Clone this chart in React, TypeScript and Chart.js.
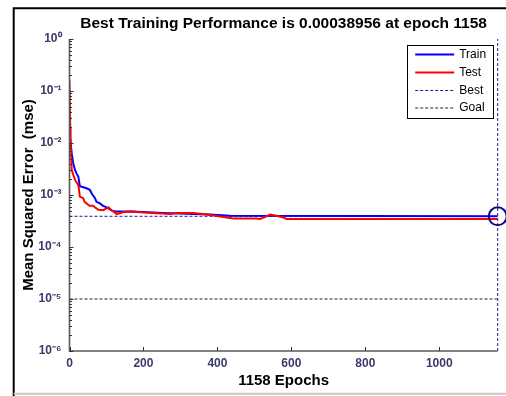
import React, { useEffect, useRef } from 'react';
import { Chart, registerables } from 'chart.js';

Chart.register(...registerables);

const TITLE = 'Best Training Performance is 0.00038956 at epoch 1158';
const X_LABEL = '1158 Epochs';
const Y_LABEL = 'Mean Squared Error  (mse)';
const MAX_EPOCH = 1158;
const BEST_PERF = 0.00038956;
const GOAL = 1e-5;

const X_TICKS = [0, 200, 400, 600, 800, 1000];
const Y_TICKS = [1e-6, 1e-5, 1e-4, 1e-3, 1e-2, 1e-1, 1];
const Y_TICK_LABELS = ['10⁻⁶', '10⁻⁵', '10⁻⁴', '10⁻³', '10⁻²', '10⁻¹', '10⁰'];

const trainEpochs = [0, 1, 6, 10, 15, 19, 24, 28, 46, 55, 60, 69, 73, 82, 91, 100, 105, 115, 123, 168, 254, 380, 434, 1158];
const trainMse = [0.0158, 0.0141, 0.0063, 0.0041, 0.003, 0.0026, 0.00224, 0.00148, 0.00135, 0.00126, 0.00107, 0.00087, 0.00074, 0.00069, 0.00062, 0.00058, 0.00055, 0.0005, 0.00048, 0.00048, 0.00045, 0.00042, 0.000398, 0.00038956];

const testEpochs = [0, 2, 3, 6, 15, 24, 28, 37, 41, 54, 63, 78, 91, 100, 105, 114, 128, 146, 168, 200, 272, 290, 335, 371, 443, 506, 515, 530, 542, 560, 578, 587, 1158];
const testMse = [0.16, 0.02, 0.0115, 0.003, 0.00195, 0.00155, 0.00093, 0.00087, 0.00074, 0.00062, 0.00062, 0.00052, 0.00051, 0.00055, 0.00058, 0.00051, 0.00043, 0.00047, 0.00048, 0.00046, 0.00043, 0.00045, 0.00045, 0.00042, 0.000355, 0.000355, 0.000347, 0.00038, 0.00042, 0.0004, 0.00037, 0.000347, 0.000347];

const LEGEND_LABELS = ['Train', 'Test', 'Best', 'Goal'];

const FONT = "'Liberation Sans', Arial, sans-serif";
const TICK_COLOR = '#3a3a6a';
const AXIS_COLOR = '#5a5a5a';

const decorPlugin = {
  id: 'decor',
  beforeDraw(chart: any) {
    const { ctx, width, height } = chart;
    ctx.save();
    ctx.fillStyle = '#ffffff';
    ctx.fillRect(0, 0, width, height);
    ctx.strokeStyle = '#000000';
    ctx.lineWidth = 2;
    ctx.beginPath();
    ctx.moveTo(13.7, height);
    ctx.lineTo(13.7, 8.3);
    ctx.lineTo(width, 8.3);
    ctx.stroke();
    ctx.strokeStyle = '#c8c8c8';
    ctx.beginPath();
    ctx.moveTo(13.7, 393.7);
    ctx.lineTo(width, 393.7);
    ctx.stroke();
    ctx.restore();
  },
  afterDraw(chart: any) {
    const { ctx, chartArea: ca } = chart;
    const xs = chart.scales.x;
    const ys = chart.scales.y;
    ctx.save();
    ctx.strokeStyle = AXIS_COLOR;
    ctx.lineWidth = 1.6;
    ctx.beginPath();
    ctx.moveTo(ca.left, ca.top);
    ctx.lineTo(ca.left, ca.bottom);
    ctx.lineTo(ca.right, ca.bottom);
    ctx.stroke();
    ctx.lineWidth = 1;
    ctx.strokeStyle = '#333333';
    ctx.beginPath();
    X_TICKS.forEach((v) => {
      const px = Math.round(xs.getPixelForValue(v)) + 0.5;
      ctx.moveTo(px, ca.bottom);
      ctx.lineTo(px, ca.bottom - 4);
    });
    for (let i = 0; i < Y_TICKS.length; i++) {
      const v = Y_TICKS[i];
      const py = Math.round(ys.getPixelForValue(v)) + 0.5;
      ctx.moveTo(ca.left, py);
      ctx.lineTo(ca.left + 4, py);
      if (i < Y_TICKS.length - 1) {
        for (let m = 2; m <= 9; m++) {
          const pm = Math.round(ys.getPixelForValue(v * m)) + 0.5;
          ctx.moveTo(ca.left, pm);
          ctx.lineTo(ca.left + 2.5, pm);
        }
      }
    }
    ctx.stroke();

    const bx = ca.right - 90.5;
    const by = ca.top + 6;
    const bw = 86;
    const bh = 73;
    ctx.fillStyle = '#ffffff';
    ctx.fillRect(bx, by, bw, bh);
    ctx.strokeStyle = '#000000';
    ctx.lineWidth = 1;
    ctx.strokeRect(Math.round(bx) + 0.5, Math.round(by) + 0.5, bw, bh);
    const rows = [9.5, 27.5, 45.5, 63];
    ctx.font = `12px ${FONT}`;
    ctx.textBaseline = 'middle';
    ctx.textAlign = 'left';
    LEGEND_LABELS.forEach((lab, i) => {
      const ds = chart.data.datasets[i];
      const y = by + rows[i];
      ctx.save();
      ctx.strokeStyle = ds.borderColor;
      ctx.lineWidth = ds.borderWidth;
      ctx.setLineDash(ds.borderDash || []);
      ctx.beginPath();
      ctx.moveTo(bx + 8, y);
      ctx.lineTo(bx + 47, y);
      ctx.stroke();
      ctx.restore();
      ctx.fillStyle = '#000000';
      ctx.fillText(lab, bx + 52, y);
    });
    ctx.restore();
  },
};

export default function App() {
  const ref = useRef<HTMLCanvasElement | null>(null);

  useEffect(() => {
    document.body.style.margin = '0';
    const canvas = ref.current;
    if (!canvas) return;
    const chart = new Chart(canvas, {
      type: 'line',
      data: {
        datasets: [
          {
            label: 'Train',
            data: trainEpochs.map((e, i) => ({ x: e, y: trainMse[i] })),
            borderColor: '#0000ff',
            borderWidth: 2,
            pointRadius: 0,
            order: 3,
          },
          {
            label: 'Test',
            data: testEpochs.map((e, i) => ({ x: e, y: testMse[i] })),
            borderColor: '#ff0000',
            borderWidth: 2,
            pointRadius: 0,
            order: 2,
          },
          {
            label: 'Best',
            data: [
              { x: 0, y: BEST_PERF },
              { x: MAX_EPOCH, y: BEST_PERF },
            ],
            borderColor: '#1a1a9a',
            borderWidth: 1,
            borderDash: [3, 2],
            pointRadius: 0,
            order: 4,
          },
          {
            label: 'Goal',
            data: [
              { x: 0, y: GOAL },
              { x: MAX_EPOCH, y: GOAL },
            ],
            borderColor: '#222222',
            borderWidth: 1,
            borderDash: [3, 2],
            pointRadius: 0,
            order: 5,
          },
          {
            label: 'BestEpoch',
            data: [
              { x: MAX_EPOCH, y: Y_TICKS[0] },
              { x: MAX_EPOCH, y: Y_TICKS[Y_TICKS.length - 1] },
            ],
            borderColor: '#1a1a9a',
            borderWidth: 1,
            borderDash: [3, 2],
            pointRadius: 0,
            clip: false,
            order: 4,
          },
          {
            label: 'BestPoint',
            data: [{ x: MAX_EPOCH, y: BEST_PERF }],
            showLine: false,
            pointRadius: 9,
            pointBorderWidth: 2,
            pointBorderColor: '#0a0a80',
            pointBackgroundColor: 'rgba(0,0,0,0)',
            borderColor: '#0a0a80',
            clip: false,
            order: 1,
          },
        ],
      },
      options: {
        animation: false,
        responsive: false,
        devicePixelRatio: 1,
        layout: { autoPadding: false, padding: { left: 0, top: 0, right: 8.3, bottom: 0 } },
        plugins: {
          legend: { display: false },
          tooltip: { enabled: false },
          title: {
            display: true,
            fullSize: false,
            text: TITLE,
            color: '#000000',
            font: { family: FONT, size: 15.5, weight: 'bold' },
            padding: { top: 14.2, bottom: 6.2 },
          },
        },
        scales: {
          x: {
            type: 'linear',
            min: 0,
            max: MAX_EPOCH,
            grid: { display: false, drawTicks: false },
            border: { display: false },
            afterBuildTicks: (s: any) => {
              s.ticks = X_TICKS.map((v) => ({ value: v }));
            },
            afterFit: (s: any) => {
              s.height = 45;
              s.paddingLeft = 0;
              s.paddingRight = 0;
            },
            ticks: {
              color: TICK_COLOR,
              font: { family: FONT, size: 12, weight: 'bold' },
              padding: 5,
              maxRotation: 0,
              callback: (v: any) => String(v),
            },
            title: {
              display: true,
              text: X_LABEL,
              color: '#000000',
              font: { family: FONT, size: 15, weight: 'bold' },
              padding: { top: 0, bottom: 6 },
            },
          },
          y: {
            type: 'logarithmic',
            min: Y_TICKS[0],
            max: Y_TICKS[Y_TICKS.length - 1],
            grid: { display: false, drawTicks: false },
            border: { display: false },
            afterBuildTicks: (s: any) => {
              s.ticks = Y_TICKS.map((v) => ({ value: v }));
            },
            afterFit: (s: any) => {
              s.width = 69.5;
              s.paddingTop = 0;
              s.paddingBottom = 0;
            },
            ticks: {
              color: TICK_COLOR,
              font: { family: FONT, size: 12, weight: 'bold' },
              padding: 8,
              callback: (v: any) => {
                const idx = Y_TICKS.findIndex((t) => Math.abs(Math.log10(t) - Math.log10(v)) < 1e-6);
                return idx >= 0 ? Y_TICK_LABELS[idx] : '';
              },
            },
            title: {
              display: true,
              text: Y_LABEL,
              color: '#000000',
              font: { family: FONT, size: 15, weight: 'bold' },
              padding: { top: 19.5, bottom: 0 },
            },
          },
        },
      },
      plugins: [decorPlugin],
    } as any);
    return () => chart.destroy();
  }, []);

  return (
    <div style={{ position: 'absolute', left: 0, top: 0, width: 506, height: 396 }}>
      <canvas ref={ref} width={506} height={396} style={{ display: 'block', width: 506, height: 396 }} />
    </div>
  );
}
